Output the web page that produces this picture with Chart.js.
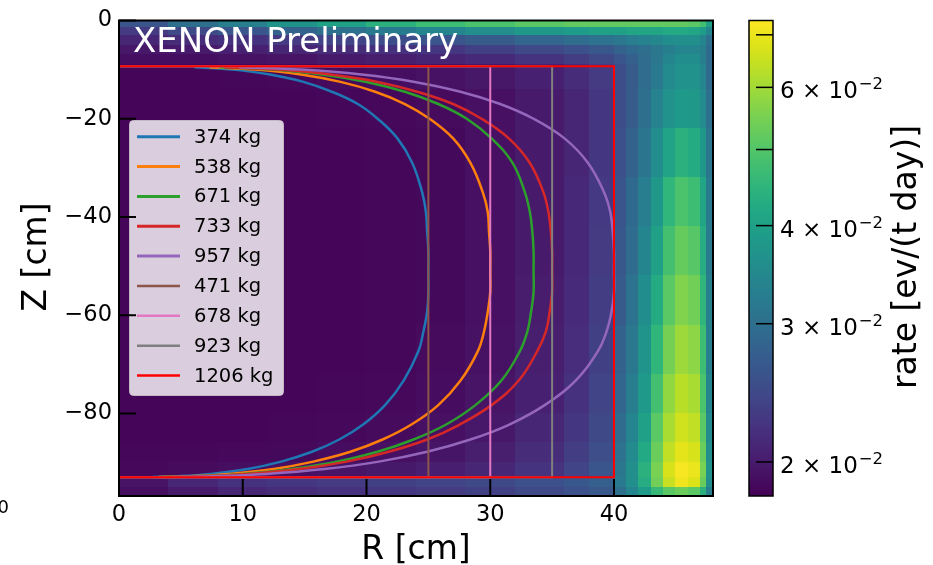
<!DOCTYPE html>
<html>
<head>
<meta charset="utf-8">
<script src="https://cdn.jsdelivr.net/npm/chart.js@4.4.1/dist/chart.umd.min.js"></script>
<style>
  html, body { margin: 0; padding: 0; background: #fff; }
  #rateChart { display: block; }
</style>
</head>
<body>
<canvas id="rateChart" width="933" height="565"></canvas>
<script>
// ---- data ----
// histogram bin edges (R in cm, Z in cm, top to bottom)
const rEdges = [0, 4, 8, 12, 16, 20, 24, 28, 32, 36, 38, 40, 41, 42, 43, 44, 45, 46, 47, 47.5, 48];
const zEdges = [0, -1.5, -3, -5, -7, -9, -14, -22, -32, -42, -52, -62, -72, -80, -86, -90, -93, -95, -97];

// rate per bin, in units of 1e-2 ev/(t day), one row per Z bin
const rate = [
  [2.6, 3.0, 3.3, 3.7, 4.0, 4.4, 4.7, 4.9, 5.1, 5.2, 5.2, 5.2, 5.2, 5.2, 5.2, 5.2, 5.2, 5.1, 4.8, 4.0],
  [2.3, 2.45, 2.6, 2.8, 3.0, 3.2, 3.4, 3.6, 3.8, 3.9, 4.0, 4.0, 4.1, 4.1, 4.1, 4.2, 4.2, 4.1, 3.9, 3.4],
  [2.1, 2.15, 2.2, 2.3, 2.4, 2.5, 2.6, 2.7, 2.85, 2.95, 3.05, 3.15, 3.25, 3.35, 3.45, 3.55, 3.6, 3.6, 3.4, 3.0],
  [1.98, 2.0, 2.05, 2.1, 2.15, 2.2, 2.25, 2.35, 2.45, 2.55, 2.65, 2.8, 2.9, 3.0, 3.15, 3.3, 3.4, 3.4, 3.3, 2.9],
  [1.9, 1.9, 1.93, 1.95, 2.0, 2.03, 2.08, 2.13, 2.22, 2.32, 2.45, 2.6, 2.75, 2.95, 3.15, 3.4, 3.55, 3.55, 3.3, 2.9],
  [1.84, 1.84, 1.85, 1.86, 1.88, 1.9, 1.93, 1.97, 2.05, 2.15, 2.3, 2.5, 2.7, 2.95, 3.2, 3.5, 3.65, 3.65, 3.4, 2.9],
  [1.84, 1.84, 1.84, 1.84, 1.85, 1.86, 1.88, 1.92, 2.0, 2.1, 2.25, 2.5, 2.7, 3.0, 3.35, 3.65, 3.85, 3.8, 3.5, 3.0],
  [1.84, 1.84, 1.84, 1.84, 1.84, 1.85, 1.87, 1.92, 2.0, 2.1, 2.25, 2.55, 2.8, 3.1, 3.55, 4.05, 4.4, 4.25, 3.8, 3.1],
  [1.84, 1.84, 1.84, 1.84, 1.84, 1.85, 1.87, 1.92, 2.0, 2.12, 2.28, 2.6, 2.9, 3.25, 3.8, 4.5, 4.9, 4.7, 4.1, 3.2],
  [1.84, 1.84, 1.84, 1.84, 1.84, 1.85, 1.87, 1.92, 2.0, 2.12, 2.3, 2.65, 2.95, 3.4, 4.0, 4.8, 5.25, 5.05, 4.3, 3.2],
  [1.84, 1.84, 1.84, 1.84, 1.84, 1.85, 1.87, 1.92, 2.02, 2.14, 2.32, 2.7, 3.05, 3.55, 4.25, 5.1, 5.6, 5.4, 4.5, 3.3],
  [1.84, 1.84, 1.84, 1.84, 1.84, 1.85, 1.88, 1.93, 2.03, 2.16, 2.35, 2.8, 3.15, 3.7, 4.5, 5.45, 5.95, 5.75, 4.7, 3.3],
  [1.84, 1.84, 1.84, 1.84, 1.85, 1.86, 1.89, 1.95, 2.05, 2.2, 2.4, 2.85, 3.25, 3.85, 4.8, 5.8, 6.3, 6.1, 4.9, 3.4],
  [1.84, 1.84, 1.84, 1.85, 1.86, 1.88, 1.92, 1.98, 2.1, 2.25, 2.45, 2.95, 3.4, 4.0, 5.1, 6.1, 6.6, 6.4, 5.1, 3.5],
  [1.85, 1.85, 1.86, 1.87, 1.89, 1.92, 1.96, 2.03, 2.15, 2.32, 2.52, 3.05, 3.5, 4.2, 5.3, 6.4, 6.9, 6.7, 5.3, 3.6],
  [1.86, 1.88, 1.9, 1.92, 1.95, 1.99, 2.04, 2.1, 2.22, 2.4, 2.6, 3.15, 3.6, 4.4, 5.5, 6.7, 7.2, 7.0, 5.5, 3.7],
  [1.95, 2.1, 2.2, 2.25, 2.3, 2.35, 2.4, 2.45, 2.55, 2.65, 2.75, 3.2, 3.6, 4.3, 5.4, 6.5, 7.1, 6.8, 5.3, 3.6],
  [1.9, 2.0, 2.1, 2.15, 2.2, 2.25, 2.3, 2.35, 2.45, 2.55, 2.65, 3.0, 3.4, 3.9, 4.6, 5.1, 5.3, 5.1, 4.4, 3.3]
];

// tick values
const xTicks = [0, 10, 20, 30, 40];
const zTicks = [0, -20, -40, -60, -80];
const cbTicks = [2, 3, 4, 5, 6, 7];
const cbLabeled = [2, 3, 4, 6];

// fiducial volume curves: R (cm) at these Z levels (cm)
const fvZ = [-9.5, -10, -11, -12.5, -14.5, -17, -20, -24, -29, -35, -39, -43, -47, -51.15,
  -55.3, -59.3, -63.3, -67.3, -73.3, -78.3, -82.3, -85.3, -87.8, -89.8, -91.3, -92.3, -92.8, -92.95];
const fvLabels = ['374 kg', '538 kg', '671 kg', '733 kg', '957 kg'];
const fvR = [
  [6.1, 9.2, 12.2, 14.9, 17.2, 19.3, 20.9, 22.5, 23.7, 24.5, 24.8, 24.9, 25.0, 25.0,
    25.0, 24.9, 24.6, 24.2, 23.0, 21.5, 19.7, 17.8, 15.6, 13.1, 10.4, 7.4, 4.6, 2.7],
  [7.3, 11.0, 14.7, 17.9, 20.7, 23.1, 25.1, 27.0, 28.4, 29.4, 29.8, 29.9, 30.0, 30.0,
    30.0, 29.8, 29.5, 29.0, 27.6, 25.8, 23.6, 21.3, 18.7, 15.7, 12.5, 8.9, 5.5, 3.2],
  [8.1, 12.3, 16.4, 20.0, 23.1, 25.8, 28.1, 30.1, 31.8, 32.8, 33.2, 33.4, 33.5, 33.5,
    33.5, 33.3, 33.0, 32.4, 30.9, 28.8, 26.4, 23.8, 20.9, 17.6, 13.9, 10.0, 6.2, 3.6],
  [8.5, 12.8, 17.1, 20.9, 24.1, 27.0, 29.3, 31.5, 33.2, 34.3, 34.7, 34.9, 35.0, 35.0,
    35.0, 34.8, 34.5, 33.8, 32.3, 30.1, 27.5, 24.9, 21.8, 18.4, 14.6, 10.4, 6.5, 3.8],
  [9.7, 14.7, 19.6, 23.9, 27.6, 30.8, 33.5, 36.0, 37.9, 39.2, 39.7, 39.9, 40.0, 40.0,
    40.0, 39.8, 39.4, 38.7, 36.9, 34.4, 31.5, 28.4, 24.9, 21.0, 16.6, 11.9, 7.4, 4.3]
];
const fvColors = ['#1f77b4', '#ff7f0e', '#2ca02c', '#d62728', '#9467bd'];

// cylindrical volumes
const cylLabels = ['471 kg', '678 kg', '923 kg', '1206 kg'];
const cylRadius = [25, 30, 35, 40];
const cylColors = ['#8c564b', '#e377c2', '#7f7f7f', '#ff0000'];
const zTop = -9.3;
const zBottom = -93.0;

// ---- styling ----
const FONT = 'DejaVu Sans';
Chart.defaults.font.family = FONT;

const viridis = ['#440154', '#471365', '#482475', '#463480', '#414487', '#3b528b', '#355f8d',
  '#2f6c8e', '#2a788e', '#25848e', '#21918c', '#1e9c89', '#22a884', '#2fb47c', '#44bf70',
  '#5ec962', '#7ad151', '#9bd93c', '#bddf26', '#dfe318', '#fde725'];

function hexRgb(h) {
  return [parseInt(h.slice(1, 3), 16), parseInt(h.slice(3, 5), 16), parseInt(h.slice(5, 7), 16)];
}
const viridisRgb = viridis.map(hexRgb);

function colormap(f) {
  f = Math.max(0, Math.min(1, f));
  const p = f * (viridisRgb.length - 1);
  const i = Math.min(Math.floor(p), viridisRgb.length - 2);
  const t = p - i;
  const a = viridisRgb[i], b = viridisRgb[i + 1];
  return 'rgb(' + [0, 1, 2].map(k => Math.round(a[k] + (b[k] - a[k]) * t)).join(',') + ')';
}

// colour for a rate value through the colorbar's log scale
function rateColor(cb, v) {
  const f = (cb.bottom - cb.getPixelForValue(v)) / (cb.bottom - cb.top);
  return colormap(f);
}

const datasets = [];
fvLabels.forEach((label, i) => {
  datasets.push({
    label: label,
    data: fvZ.map((z, j) => ({ x: fvR[i][j], y: z })),
    borderColor: fvColors[i],
    borderWidth: 2.5,
    tension: 0.4
  });
});
cylLabels.forEach((label, i) => {
  const r = cylRadius[i];
  datasets.push({
    label: label,
    data: [{ x: 0, y: zTop }, { x: r, y: zTop }, { x: r, y: zBottom }, { x: 0, y: zBottom }],
    borderColor: cylColors[i],
    borderWidth: 2,
    tension: 0
  });
});
datasets.forEach((d, i) => {
  d.showLine = true;
  d.pointRadius = 0;
  d.fill = false;
  d.order = datasets.length - i; // later datasets on top
});

// heatmap under the lines
const heatmapPlugin = {
  id: 'heatmap',
  beforeDatasetsDraw(chart) {
    const { ctx, chartArea: a, scales: { x, y, cb } } = chart;
    ctx.save();
    ctx.beginPath();
    ctx.rect(a.left, a.top, a.right - a.left, a.bottom - a.top);
    ctx.clip();
    for (let i = 0; i < rate.length; i++) {
      const y0 = Math.floor(y.getPixelForValue(zEdges[i]));
      const y1 = Math.ceil(y.getPixelForValue(zEdges[i + 1]));
      for (let j = 0; j < rate[i].length; j++) {
        const x0 = Math.floor(x.getPixelForValue(rEdges[j]));
        const x1 = Math.ceil(x.getPixelForValue(rEdges[j + 1]));
        ctx.fillStyle = rateColor(cb, rate[i][j]);
        ctx.fillRect(x0, y0, x1 - x0, y1 - y0);
      }
    }
    ctx.restore();
  }
};

// frame, inward ticks, legend, labels, colorbar
const decorPlugin = {
  id: 'decor',
  afterDraw(chart) {
    const { ctx, chartArea: a, scales: { x, y, cb } } = chart;
    ctx.save();

    // watermark
    ctx.fillStyle = '#fff';
    ctx.font = '34px "' + FONT + '"';
    ctx.textAlign = 'left';
    ctx.textBaseline = 'alphabetic';
    ctx.fillText('XENON Preliminary', 133, 52);

    // legend
    ctx.beginPath();
    ctx.roundRect(129.5, 120.5, 154, 275, 4);
    ctx.fillStyle = 'rgba(255,255,255,0.8)';
    ctx.fill();
    ctx.strokeStyle = 'rgba(204,204,204,0.8)';
    ctx.lineWidth = 1;
    ctx.stroke();
    ctx.font = '19.5px "' + FONT + '"';
    ctx.textBaseline = 'middle';
    chart.data.datasets.forEach((d, i) => {
      const ly = 136.7 + 29.85 * i;
      ctx.strokeStyle = d.borderColor;
      ctx.lineWidth = d.borderWidth + 0.5;
      ctx.beginPath();
      ctx.moveTo(137, ly);
      ctx.lineTo(180, ly);
      ctx.stroke();
      ctx.fillStyle = '#000';
      ctx.fillText(d.label, 194, ly + 1);
    });

    // frame and inward ticks
    ctx.strokeStyle = '#000';
    ctx.lineWidth = 2;
    ctx.strokeRect(a.left, a.top, a.right - a.left, a.bottom - a.top);
    xTicks.forEach(v => {
      const px = x.getPixelForValue(v);
      ctx.beginPath();
      ctx.moveTo(px, a.bottom);
      ctx.lineTo(px, a.bottom - 17);
      ctx.stroke();
    });
    zTicks.forEach(v => {
      const py = y.getPixelForValue(v);
      ctx.beginPath();
      ctx.moveTo(a.left, py);
      ctx.lineTo(a.left + 17, py);
      ctx.stroke();
    });

    // axis titles
    ctx.fillStyle = '#000';
    ctx.font = '33px "' + FONT + '"';
    ctx.textAlign = 'center';
    ctx.textBaseline = 'alphabetic';
    ctx.fillText('R [cm]', (a.left + a.right) / 2, 559);
    ctx.save();
    ctx.translate(46, 257);
    ctx.rotate(-Math.PI / 2);
    ctx.fillText('Z [cm]', 0, 0);
    ctx.restore();

    // colorbar
    const cbL = 749, cbR = 773;
    for (let py = Math.floor(cb.top); py < cb.bottom; py++) {
      ctx.fillStyle = rateColor(cb, cb.getValueForPixel(py + 0.5));
      ctx.fillRect(cbL, py, cbR - cbL, 1);
    }
    ctx.fillStyle = '#000';
    ctx.lineWidth = 1.5;
    ctx.strokeRect(cbL, cb.top, cbR - cbL, cb.bottom - cb.top);
    cbTicks.forEach(v => {
      const py = cb.getPixelForValue(v);
      ctx.beginPath();
      ctx.moveTo(cbR, py);
      ctx.lineTo(cbR - 17, py);
      ctx.stroke();
      if (cbLabeled.includes(v)) {
        ctx.textAlign = 'left';
        ctx.font = '23px "' + FONT + '"';
        const base = v + ' \u00d7 10';
        ctx.fillText(base, 780, py + 11);
        const w = ctx.measureText(base).width;
        ctx.font = '16.5px "' + FONT + '"';
        ctx.fillText('\u22122', 780 + w + 1, py + 2);
      }
    });
    ctx.font = '33px "' + FONT + '"';
    ctx.textAlign = 'center';
    ctx.save();
    ctx.translate(916, 257);
    ctx.rotate(-Math.PI / 2);
    ctx.fillText('rate [ev/(t day)]', 0, 0);
    ctx.restore();

    // clipped leftover tick label at the left edge
    ctx.font = '18px "' + FONT + '"';
    ctx.textAlign = 'right';
    ctx.fillText('0', 9, 513);

    ctx.restore();
  }
};

const tickFont = { family: FONT, size: 22.5 };

new Chart(document.getElementById('rateChart'), {
  type: 'scatter',
  data: { datasets: datasets },
  options: {
    responsive: false,
    devicePixelRatio: 1,
    animation: false,
    layout: { padding: { top: 15, left: 0, right: 0, bottom: 0 } },
    plugins: { legend: { display: false }, tooltip: { enabled: false } },
    scales: {
      x: {
        type: 'linear',
        position: 'bottom',
        min: 0,
        max: 48,
        afterFit: s => { s.height = 69; },
        afterBuildTicks: s => { s.ticks = xTicks.map(v => ({ value: v })); },
        grid: { display: false, drawTicks: false },
        border: { display: false },
        ticks: { color: '#000', font: tickFont, padding: 6, maxRotation: 0, autoSkip: false }
      },
      y: {
        type: 'linear',
        position: 'left',
        min: -96.8,
        max: 0,
        afterFit: s => { s.width = 119; },
        afterBuildTicks: s => { s.ticks = zTicks.map(v => ({ value: v })); },
        grid: { display: false, drawTicks: false },
        border: { display: false },
        ticks: {
          color: '#000', font: tickFont, padding: 7, autoSkip: false,
          callback: v => (v < 0 ? '\u2212' + Math.abs(v) : String(v))
        }
      },
      cb: {
        type: 'logarithmic',
        axis: 'y',
        position: 'right',
        min: 1.81,
        max: 7.3,
        afterFit: s => { s.width = 220; },
        grid: { display: false, drawTicks: false },
        border: { display: false },
        ticks: { display: false }
      }
    }
  },
  plugins: [heatmapPlugin, decorPlugin]
});
</script>
</body>
</html>
